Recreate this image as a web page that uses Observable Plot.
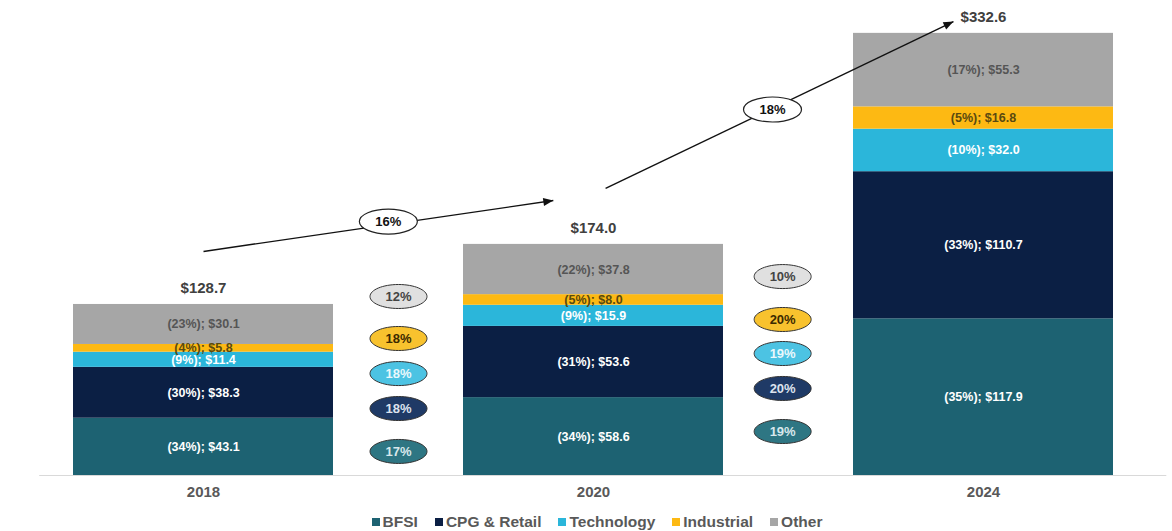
<!DOCTYPE html>
<html><head><meta charset="utf-8">
<script src="https://cdn.jsdelivr.net/npm/d3@7"></script>
<script src="https://cdn.jsdelivr.net/npm/@observablehq/plot@0.6"></script>
<style>
body{margin:0;background:#fff;font-family:"Liberation Sans",Arial,sans-serif;}
#legend{display:flex;justify-content:center;gap:17px;font-weight:bold;font-size:15.5px;color:#595959;padding-left:22px;height:26px;align-items:center;margin-top:4px;}
#legend span.item{display:inline-flex;align-items:center;}
.sw{display:inline-block;width:8px;height:8px;margin-right:3px;}
</style></head><body><div id="chart"></div><div id="legend"></div>
<script>
// ---- data ----
const years = ["2018", "2020", "2024"];
const segments = ["BFSI", "CPG & Retail", "Technology", "Industrial", "Other"];
const values2018 = [43.1, 38.3, 11.4, 5.8, 30.1];
const values2020 = [58.6, 53.6, 15.9, 8.0, 37.8];
const values2024 = [117.9, 110.7, 32.0, 16.8, 55.3];
const shares2018 = [34, 30, 9, 4, 23];
const shares2020 = [34, 31, 9, 5, 22];
const shares2024 = [35, 33, 10, 5, 17];
const totals = [128.7, 174.0, 332.6];
const cagr2018to2020 = [17, 18, 18, 18, 12];
const cagr2020to2024 = [19, 20, 19, 20, 10];
const overallCagr = [16, 18];

// ---- styles ----
const segColor = {"BFSI":"#1D6272","CPG & Retail":"#0B1F44","Technology":"#2BB6DA","Industrial":"#FDB913","Other":"#A6A6A6"};
const labelColor = {"BFSI":"#ffffff","CPG & Retail":"#ffffff","Technology":"#ffffff","Industrial":"#5a4a10","Other":"#555555"};
const pillFill = {"BFSI":"#2E7683","CPG & Retail":"#1F3A66","Technology":"#4CC3E3","Industrial":"#F8C22E","Other":"#E0E0E0"};
const pillText = {"BFSI":"#d8e8ec","CPG & Retail":"#dde3ee","Technology":"#eaf8fc","Industrial":"#3c2a00","Other":"#444444"};

// ---- layout (annotation placement) ----
const pillColX = [0.5, 1.485];
const pillColY = [[18.1, 50.4, 76.7, 103.1, 134.7], [33.1, 65.5, 91.8, 117.4, 149.7]];
const arrowLayout = [{x1:0, y1:168.6, x2:0.897, y2:206.9, lx:0.474, ly:191.1},
                     {x1:1.031, y1:216, x2:1.923, y2:341.6, lx:1.459, ly:275.4}];

const allValues = [values2018, values2020, values2024];
const allShares = [shares2018, shares2020, shares2024];
const rows = [];
years.forEach((yr, i) => segments.forEach((s, j) => rows.push({i, year: yr, segment: s, value: allValues[i][j], share: allShares[i][j]})));

const pills = [];
[cagr2018to2020, cagr2020to2024].forEach((arr, c) => segments.forEach((s, j) => pills.push({x: pillColX[c], y: pillColY[c][j], segment: s, cagr: arr[j]})));
const overall = overallCagr.map((v, k) => ({...arrowLayout[k], cagr: v}));

function ellipse(rx, ry) {
  return {draw(ctx) {
    const k = 0.5523, ox = rx * k, oy = ry * k;
    ctx.moveTo(-rx, 0);
    ctx.bezierCurveTo(-rx, -oy, -ox, -ry, 0, -ry);
    ctx.bezierCurveTo(ox, -ry, rx, -oy, rx, 0);
    ctx.bezierCurveTo(rx, oy, ox, ry, 0, ry);
    ctx.bezierCurveTo(-ox, ry, -rx, oy, -rx, 0);
    ctx.closePath();
  }};
}
const arrowHead = {draw(ctx) { ctx.moveTo(0, 0); ctx.lineTo(-10, -4); ctx.lineTo(-10, 4); ctx.closePath(); }};

const font = '"Liberation Sans", Arial, sans-serif';
function build(angles) {
  return Plot.plot({
    width: 1172, height: 505,
    marginLeft: 73, marginRight: 59, marginTop: 33, marginBottom: 30,
    x: {domain: [-1/3, 7/3]},
    y: {domain: [0, 332.6], axis: null},
    color: {type: "identity"},
    style: {fontFamily: font, background: "#fff", overflow: "visible"},
    marks: [
      Plot.ruleY([0], {x1: -0.42, x2: 2.47, stroke: "#d9d9d9", strokeWidth: 1}),
      Plot.rectY(rows, Plot.stackY({x1: d => d.i - 1/3, x2: d => d.i + 1/3, y: "value", fill: d => segColor[d.segment]})),
      Plot.text(rows, Plot.stackY({x: "i", y: "value", text: d => `(${d.share}%); $${d.value.toFixed(1)}`,
        fill: d => labelColor[d.segment], fontSize: 12.5, fontWeight: "bold"})),
      Plot.text(totals, {x: (d, i) => i, y: d => d, dy: -16, text: d => "$" + d.toFixed(1), fontSize: 15, fontWeight: "bold", fill: "#404040"}),
      Plot.axisX([0, 1, 2], {tickFormat: i => years[i], tickSize: 0, tickPadding: 11, fontSize: 15, fontWeight: "bold", fill: "#595959", label: null}),
      Plot.dot(pills, {x: "x", y: "y", symbol: ellipse(28.5, 12), fill: d => pillFill[d.segment], stroke: "#333", strokeWidth: 1}),
      Plot.text(pills, {x: "x", y: "y", text: d => d.cagr + "%", fill: d => pillText[d.segment], fontSize: 13, fontWeight: "bold"}),
      Plot.link(overall, {x1: "x1", y1: "y1", x2: "x2", y2: "y2", stroke: "#111", strokeWidth: 1.4}),
      Plot.dot(overall, {x: "x2", y: "y2", symbol: arrowHead, rotate: (d, k) => angles[k], fill: "#111", stroke: "none"}),
      Plot.dot(overall, {x: "lx", y: "ly", symbol: ellipse(29, 12.5), fill: "#fff", stroke: "#222", strokeWidth: 1.2}),
      Plot.text(overall, {x: "lx", y: "ly", text: d => d.cagr + "%", fill: "#111", fontSize: 13, fontWeight: "bold"})
    ]
  });
}
// first pass to read the scales, then orient arrowheads along the lines in pixel space
const tmp = build([0, 0]);
const sx = tmp.scale("x"), sy = tmp.scale("y");
const angles = overall.map(d => Math.atan2(sy.apply(d.y2) - sy.apply(d.y1), sx.apply(d.x2) - sx.apply(d.x1)) * 180 / Math.PI);
document.getElementById("chart").appendChild(build(angles));

const legend = document.getElementById("legend");
segments.forEach(s => {
  const it = document.createElement("span");
  it.className = "item";
  const sw = document.createElement("span");
  sw.className = "sw"; sw.style.background = segColor[s];
  it.appendChild(sw);
  it.appendChild(document.createTextNode(s));
  legend.appendChild(it);
});
</script></body></html>
